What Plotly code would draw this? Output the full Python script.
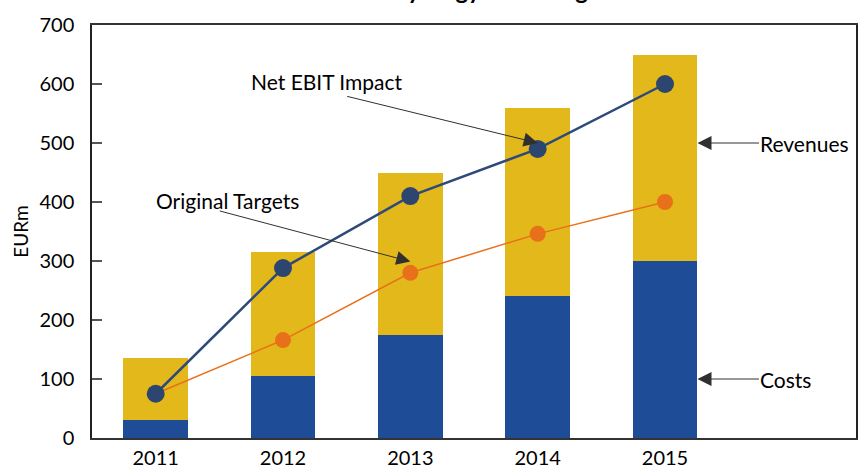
import plotly.graph_objects as go

years = ["2011", "2012", "2013", "2014", "2015"]
costs = [30, 105, 175, 240, 300]
revenues = [105, 210, 275, 320, 350]
net_ebit = [75, 288, 410, 490, 600]
original_targets = [75, 166, 280, 346, 400]
y_ticks = [0, 100, 200, 300, 400, 500, 600, 700]

idx = list(range(len(years)))
FONT = "Lato"
BAR_W = 0.51
TXT = "#000"

fig = go.Figure()
fig.add_trace(go.Bar(x=idx, y=costs, width=BAR_W, marker=dict(color="#1E4C96", line=dict(width=0)),
                     name="Costs", hoverinfo="y"))
fig.add_trace(go.Bar(x=idx, y=revenues, width=BAR_W, marker=dict(color="#E3B81B", line=dict(width=0)),
                     name="Revenues", hoverinfo="y"))
fig.add_trace(go.Scatter(x=idx, y=original_targets, mode="lines+markers", name="Original Targets",
                         line=dict(color="#E8701A", width=1.5),
                         marker=dict(color="#E8701A", size=16)))
fig.add_trace(go.Scatter(x=idx, y=net_ebit, mode="lines+markers", name="Net EBIT Impact",
                         line=dict(color="#2E4A7A", width=2.5),
                         marker=dict(color="#2C4670", size=18)))

arrow_common = dict(showarrow=True, arrowhead=2, arrowsize=2.8, arrowwidth=1,
                    arrowcolor="#303030", axref="pixel", ayref="pixel", text="")
label_font = dict(family=FONT, size=21, color=TXT)

annotations = [
    # title (cut off at top of frame in the reference; only descenders show)
    dict(text="<b>Synergy Total Targets</b>", xref="paper", yref="paper", x=0.394, y=1,
         xanchor="left", yanchor="bottom", yshift=19, showarrow=False,
         font=dict(family=FONT, size=24, color="#000")),
    dict(text="Net EBIT Impact", x=1.345, y=604, xref="x", yref="y",
         showarrow=False, xanchor="center", yanchor="middle", font=label_font),
    dict(x=3, y=net_ebit[3] + 10, ax=-192, ay=-47, **arrow_common),
    dict(text="Original Targets", x=-0.012, y=403, xref="x", yref="y",
         showarrow=False, xanchor="left", yanchor="middle", font=label_font),
    dict(x=2, y=original_targets[2] + 19, ax=-192, ay=-51, **arrow_common),
    dict(text="Revenues", x=4.73, y=500, xref="x", yref="y", showarrow=False,
         xanchor="left", yanchor="middle", font=label_font),
    dict(x=4 + BAR_W / 2, y=500, ax=63, ay=0, **arrow_common),
    dict(text="Costs", x=4.73, y=100, xref="x", yref="y", showarrow=False,
         xanchor="left", yanchor="middle", font=label_font),
    dict(x=4 + BAR_W / 2, y=100, ax=63, ay=0, **arrow_common),
]

fig.update_layout(
    width=861, height=468,
    margin=dict(l=92, r=5, t=25, b=30, pad=0),
    barmode="stack",
    showlegend=False,
    plot_bgcolor="white", paper_bgcolor="white",
    font=dict(family=FONT, color=TXT),
    annotations=annotations,
    xaxis=dict(range=[-0.5, 5.5], tickvals=idx, ticktext=years, showgrid=False, zeroline=False,
               showline=True, mirror=True, linecolor="#333", linewidth=1.5, ticks="",
               automargin=False, ticklabelstandoff=1,
               tickfont=dict(family=FONT, size=20, color=TXT)),
    yaxis=dict(range=[0, 700], tickvals=y_ticks, showgrid=False, zeroline=False,
               showline=True, mirror=True, linecolor="#222", linewidth=1.5,
               ticks="inside", ticklen=10, tickwidth=1.5, tickcolor="#555",
               ticklabelstandoff=12, automargin=False,
               tickfont=dict(family=FONT, size=20, color=TXT),
               title=dict(text="EURm", font=dict(family=FONT, size=19, color=TXT), standoff=6)),
)

# remove the browser's default 8px body margin so the figure fills the window exactly
fig.write_html("out.html", config={"displayModeBar": False},
               post_script="document.body.style.margin='0';")
